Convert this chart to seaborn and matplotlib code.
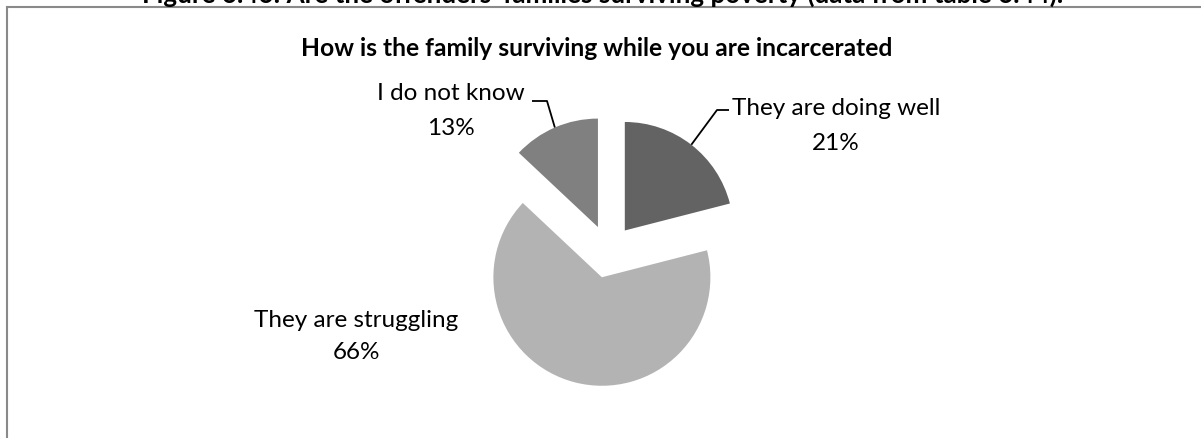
import matplotlib
matplotlib.use("Agg")
import numpy as np
import matplotlib.pyplot as plt
import seaborn as sns
from matplotlib.patches import Rectangle

# Survey answers: how the family is getting by during incarceration
categories = ["They are doing well", "They are struggling", "I do not know"]
shares = [21, 66, 13]
slice_colors = ["#636363", "#b3b3b3", "#808080"]

chart_title = "How is the family surviving while you are incarcerated"
figure_caption = "Figure 6.46: Are the offenders' families surviving poverty (data from table 6.44)."

W, H = 1201, 438

sns.set_theme(style="white")
plt.rcParams["font.family"] = ["Lato", "DejaVu Sans"]

fig = plt.figure(figsize=(W / 100, H / 100), dpi=100)
fig.patch.set_facecolor("white")
ax = fig.add_axes([0, 0, 1, 1])


def Y(y):
    """Convert a top-down pixel row into the axes' bottom-up units."""
    return H - y


pie_radius = 108.5
gap = 26.6  # how far each slice is pulled out from the centre
wedges, _ = ax.pie(
    shares,
    colors=slice_colors,
    startangle=90,
    counterclock=False,
    explode=[gap] * len(shares),
    radius=pie_radius,
    center=(608.5, Y(251.5)),
    wedgeprops=dict(linewidth=0),
    frame=True,
)
ax.set_xlim(0, W)
ax.set_ylim(0, H)
ax.set_aspect("equal")
ax.axis("off")

# Chart area border (left and top edges fall inside the canvas)
fig.add_artist(Rectangle((7 / W, -0.2), 1.2, (H - 7) / H + 0.2,
                         transform=fig.transFigure, fill=False,
                         edgecolor="#8a8a8a", linewidth=1.5))

# Figure caption sitting above the chart area
fig.text(603 / W, 1 - 3 / H, figure_caption, ha="center", va="baseline",
         fontsize=18.7, fontweight="bold", color="black")

ax.text(597, Y(48), chart_title, ha="center", va="center",
        fontsize=17.7, fontweight="bold", color="black")

label_fs = 17.5
# (label centre x, name baseline, percent baseline, elbow, text end) per slice
layout = {
    "They are doing well": dict(x=836, b1=115, b2=150, elbow=(717, 110), end=(729, 110)),
    "They are struggling": dict(x=356, b1=327, b2=359, elbow=None, end=None),
    "I do not know": dict(x=451, b1=100, b2=135, elbow=(547, 101), end=(532, 101)),
}

for wedge, name, value in zip(wedges, categories, shares):
    spec = layout[name]
    ax.text(spec["x"], Y(spec["b1"]), name, ha="center", va="baseline",
            fontsize=label_fs, color="black")
    ax.text(spec["x"], Y(spec["b2"]), f"{value}%", ha="center", va="baseline",
            fontsize=label_fs, color="black")
    if spec["elbow"] is not None:
        mid = np.deg2rad((wedge.theta1 + wedge.theta2) / 2)
        cx, cy = wedge.center
        edge_pt = (cx + wedge.r * np.cos(mid), cy + wedge.r * np.sin(mid))
        ex, ey = spec["elbow"]
        tx, ty = spec["end"]
        ax.plot([edge_pt[0], ex, tx], [edge_pt[1], Y(ey), Y(ty)],
                color="black", linewidth=1.3, solid_capstyle="butt")

fig.savefig("out.png", dpi=100, facecolor="white")
